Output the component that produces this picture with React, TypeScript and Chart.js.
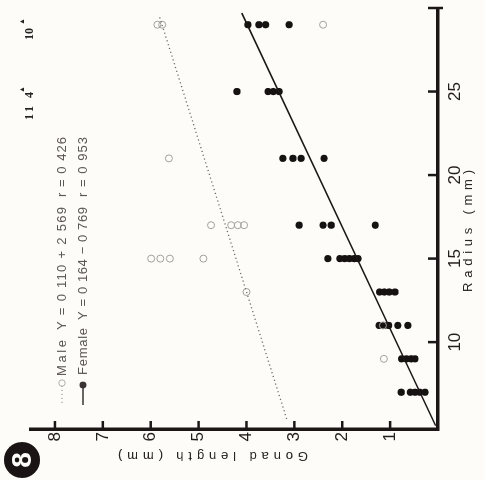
import React, { useEffect, useRef } from "react";
import { Chart, registerables } from "chart.js";

Chart.register(...registerables);

// ---- data ----
const femaleRadius = [7, 7, 7, 7, 7, 9, 9, 9, 9, 11, 11, 11, 11, 11, 13, 13, 13, 13, 15, 15, 15, 15, 15, 15, 17, 17, 17, 17, 21, 21, 21, 21, 25, 25, 25, 25, 29, 29, 29, 29];
const femaleGonad = [0.77, 0.58, 0.48, 0.38, 0.27, 0.76, 0.66, 0.56, 0.48, 1.23, 1.13, 1.03, 0.84, 0.63, 1.22, 1.12, 1.02, 0.9, 2.3, 2.05, 1.95, 1.85, 1.75, 1.67, 2.9, 2.4, 2.23, 1.31, 3.24, 3.03, 2.86, 2.38, 4.2, 3.55, 3.44, 3.32, 3.97, 3.74, 3.6, 3.11];

const maleRadius = [29, 29, 29, 21, 17, 17, 17, 17, 15, 15, 15, 15, 13, 11, 9];
const maleGonad = [5.86, 5.76, 2.4, 5.62, 4.74, 4.32, 4.18, 4.05, 5.99, 5.8, 5.6, 4.9, 4.0, 1.15, 1.13];

// regression lines (end points, from the printed equations)
const femaleLineRadius = [5.0, 29.7];
const femaleLineGonad = [0.05, 4.1];
const maleLineRadius = [5.4, 29.6];
const maleLineGonad = [3.16, 5.83];

const radiusTicks = [10, 15, 20, 25, 30];
const radiusTickLabels = ["10", "15", "20", "25", ""];
const gonadTicks = [1, 2, 3, 4, 5, 6, 7, 8];
const gonadTickLabels = ["1", "2", "3", "4", "5", "6", "7", "8"];

const legendLabels = ["Male", "Female"];
const legendEquations = ["Y = 0 110 + 2 569", "Y = 0 164 \u2212 0 769"];
const legendR = ["r = 0 426", "r = 0 953"];

const xTitle = "Radius (mm)";
const yTitle = "Gonad length (mm)";
const panelLabel = "8";

const BG = "#fdfcf8";
const INK = "#1c1616";
const FONT = "'Liberation Sans', Arial, sans-serif";

function pts(xs: number[], ys: number[]) {
  return xs.map((x, i) => ({ x, y: ys[i] }));
}

// draw text from x0 so that it spans (about) `span` pixels, by spreading letters
function spreadText(ctx: CanvasRenderingContext2D, text: string, x0: number, y: number, span: number) {
  (ctx as any).letterSpacing = "0px";
  const w = ctx.measureText(text).width;
  const n = Math.max(text.length - 1, 1);
  const sp = Math.max((span - w) / n, 0);
  (ctx as any).letterSpacing = `${sp}px`;
  ctx.textAlign = "left";
  ctx.fillText(text, x0, y);
  (ctx as any).letterSpacing = "0px";
}

const decorPlugin = {
  id: "decor",
  beforeDraw(chart: any) {
    const ctx = chart.ctx;
    ctx.save();
    ctx.fillStyle = BG;
    ctx.fillRect(0, 0, chart.width, chart.height);
    ctx.restore();
  },
  afterDraw(chart: any) {
    const ctx = chart.ctx as CanvasRenderingContext2D;
    const xs = chart.scales.x;
    const ys = chart.scales.y;
    const area = chart.chartArea;
    ctx.save();
    // inner tick marks
    ctx.strokeStyle = INK;
    ctx.lineWidth = 2.5;
    radiusTicks.forEach((v) => {
      const px = xs.getPixelForValue(v);
      ctx.beginPath();
      ctx.moveTo(px, area.bottom + (v === 30 ? 5 : 0));
      ctx.lineTo(px, area.bottom - 10);
      ctx.stroke();
    });
    gonadTicks.forEach((v) => {
      const py = ys.getPixelForValue(v);
      ctx.beginPath();
      ctx.moveTo(area.left, py);
      ctx.lineTo(area.left + 8, py);
      ctx.stroke();
    });

    // axis titles (letter-spaced)
    ctx.fillStyle = "#2a2424";
    ctx.font = `13px ${FONT}`;
    ctx.textBaseline = "middle";
    spreadText(ctx, xTitle, 188, 468, 122);
    ctx.save();
    ctx.translate(24, 0);
    ctx.rotate(-Math.PI / 2);
    // after rotation, text x runs toward smaller canvas y
    spreadText(ctx, yTitle, -308, 0, 190);
    ctx.restore();

    // legend
    const rows = [62, 83];
    const labelX = [104, 105];
    const labelSpan = [36, 47];
    const eqX = [150, 160];
    const eqSpan = [123, 113];
    ctx.font = `13px ${FONT}`;
    ctx.fillStyle = "#5c5656";
    rows.forEach((y, i) => {
      spreadText(ctx, legendLabels[i], labelX[i], y, labelSpan[i]);
      spreadText(ctx, legendEquations[i], eqX[i], y, eqSpan[i]);
      spreadText(ctx, legendR[i], 283, y, 60);
    });
    // male marker: dotted line + open circle
    ctx.strokeStyle = "#8a8a8a";
    ctx.lineWidth = 1.2;
    ctx.setLineDash([1.2, 2.8]);
    ctx.beginPath();
    ctx.moveTo(77, rows[0]);
    ctx.lineTo(94, rows[0]);
    ctx.stroke();
    ctx.setLineDash([]);
    ctx.strokeStyle = "#b0b0b0";
    ctx.lineWidth = 1;
    ctx.beginPath();
    ctx.arc(97, rows[0], 3.2, 0, Math.PI * 2);
    ctx.stroke();
    // female marker: solid line + dot
    ctx.strokeStyle = "#3a3434";
    ctx.lineWidth = 1.5;
    ctx.beginPath();
    ctx.moveTo(75, rows[1]);
    ctx.lineTo(95, rows[1]);
    ctx.stroke();
    ctx.fillStyle = "#3a3434";
    ctx.beginPath();
    ctx.arc(95, rows[1], 3.4, 0, Math.PI * 2);
    ctx.fill();

    // scan marks at top
    ctx.fillStyle = "#222";
    ctx.font = `bold 12px 'Liberation Serif', serif`;
    ctx.textAlign = "left";
    ctx.textBaseline = "alphabetic";
    spreadText(ctx, "11 4", 360, 33, 28);
    ctx.fillText("10", 440, 33);
    ctx.font = `7px ${FONT}`;
    ctx.fillText("\u25B2", 387, 24);
    ctx.fillText("\u25B2", 455, 24);

    // panel label in black disc
    ctx.fillStyle = "#1a1414";
    ctx.beginPath();
    ctx.arc(20, 22, 18, 0, Math.PI * 2);
    ctx.fill();
    ctx.fillStyle = BG;
    ctx.font = `bold 28px ${FONT}`;
    ctx.textAlign = "center";
    ctx.textBaseline = "middle";
    ctx.fillText(panelLabel, 20, 23);

    ctx.restore();
  },
};

export default function App() {
  const canvasRef = useRef<HTMLCanvasElement | null>(null);

  useEffect(() => {
    document.body.style.margin = "0";
    document.body.style.background = BG;
    const canvas = canvasRef.current;
    if (!canvas) return;
    const chart = new Chart(canvas, {
      type: "scatter",
      data: {
        datasets: [
          {
            type: "line",
            label: "Female fit",
            data: pts(femaleLineRadius, femaleLineGonad),
            borderColor: INK,
            borderWidth: 1.6,
            pointRadius: 0,
            showLine: true,
            fill: false,
          } as any,
          {
            type: "line",
            label: "Male fit",
            data: pts(maleLineRadius, maleLineGonad),
            borderColor: "#6e6868",
            borderWidth: 1.3,
            borderDash: [1.2, 2.8],
            pointRadius: 0,
            showLine: true,
            fill: false,
          } as any,
          {
            label: "Male",
            data: pts(maleRadius, maleGonad),
            pointStyle: "circle",
            pointRadius: 3.5,
            backgroundColor: "rgba(0,0,0,0)",
            borderColor: "#a4a0a0",
            borderWidth: 1,
          },
          {
            label: "Female",
            data: pts(femaleRadius, femaleGonad),
            pointStyle: "circle",
            pointRadius: 3.6,
            backgroundColor: "#161212",
            borderColor: "#161212",
            borderWidth: 0,
          },
        ],
      },
      options: {
        animation: false,
        responsive: false,
        devicePixelRatio: 1,
        layout: { padding: { left: 0, right: 8, top: 31, bottom: 0 } },
        plugins: {
          legend: { display: false },
          tooltip: { enabled: false },
          title: { display: false },
        },
        scales: {
          x: {
            type: "linear",
            position: "bottom",
            min: 4.8,
            max: 30,
            afterFit: (s: any) => {
              s.height = 47;
            },
            afterBuildTicks: (s: any) => {
              s.ticks = radiusTicks.map((v) => ({ value: v }));
            },
            ticks: {
              autoSkip: false,
              maxRotation: 0,
              minRotation: 0,
              padding: 7,
              color: "#231d1d",
              font: { size: 17, family: FONT },
              callback: (v: any) => {
                const i = radiusTicks.indexOf(Number(v));
                return i >= 0 ? radiusTickLabels[i] : "";
              },
            },
            grid: { display: true, drawOnChartArea: false, drawTicks: false },
            border: { display: true, width: 3.5, color: INK },
          },
          y: {
            type: "linear",
            position: "left",
            min: 0,
            max: 8.5,
            afterFit: (s: any) => {
              s.width = 51;
            },
            afterBuildTicks: (s: any) => {
              s.ticks = gonadTicks.map((v) => ({ value: v }));
            },
            ticks: {
              autoSkip: false,
              padding: 3,
              color: "#231d1d",
              font: { size: 17, family: FONT },
              callback: (v: any) => {
                const i = gonadTicks.indexOf(Number(v));
                return i >= 0 ? gonadTickLabels[i] : "";
              },
            },
            grid: { display: true, drawOnChartArea: false, drawTicks: false },
            border: { display: true, width: 3.5, color: INK },
          },
        },
      },
      plugins: [decorPlugin],
    });
    return () => chart.destroy();
  }, []);

  return (
    <div
      style={{
        position: "fixed",
        left: 0,
        top: 0,
        width: 485,
        height: 480,
        overflow: "hidden",
        background: BG,
      }}
    >
      <div
        style={{
          position: "absolute",
          left: 0,
          top: 0,
          width: 480,
          height: 485,
          transformOrigin: "0 0",
          transform: "translateY(480px) rotate(-90deg)",
        }}
      >
        <canvas ref={canvasRef} width={480} height={485} style={{ display: "block" }} />
      </div>
    </div>
  );
}
